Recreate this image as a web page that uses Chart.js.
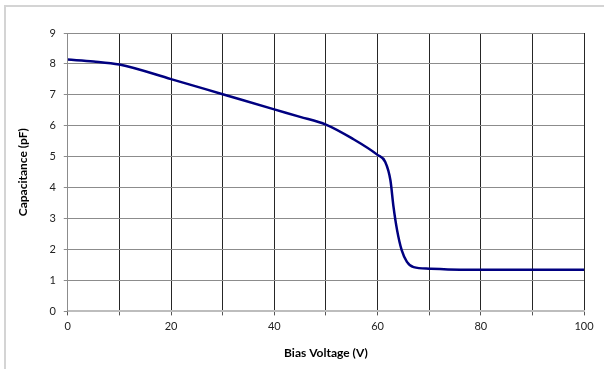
<!DOCTYPE html>
<html>
<head>
<meta charset="utf-8">
<script src="https://cdn.jsdelivr.net/npm/chart.js@4"></script>
<style>
  body { margin: 0; background: #fff; }
  #wrap { position: relative; width: 604px; height: 369px; }
</style>
</head>
<body>
<div id="wrap"><canvas id="chart"></canvas></div>
<script>
// values
const voltage = [0, 5, 10, 20, 30, 40, 45, 50, 55, 60, 61.5, 62.5, 63.1, 63.8, 64.7, 65.7, 67, 70, 76, 80, 90, 100];
const capacitance = [8.14, 8.08, 7.98, 7.51, 7.02, 6.53, 6.29, 6.04, 5.6, 5.06, 4.83, 4.24, 3.38, 2.62, 1.97, 1.6, 1.43, 1.38, 1.35, 1.35, 1.35, 1.35];
const xLabels = [0, 20, 40, 60, 80, 100];

const points = voltage.map(function (v, i) {
  return { x: v, y: capacitance[i] };
});

const frame = {
  id: 'frame',
  beforeDraw: function (chart) {
    const ctx = chart.ctx;
    ctx.save();
    ctx.strokeStyle = '#d4d4d4';
    ctx.lineWidth = 2;
    ctx.strokeRect(5, 6, 700, 700);
    ctx.restore();
  }
};

Chart.defaults.font.family = 'Lato, "Open Sans", sans-serif';
Chart.defaults.color = '#222';

new Chart(document.getElementById('chart'), {
  type: 'line',
  data: {
    datasets: [{
      data: points,
      borderColor: '#000080',
      borderWidth: 2.5,
      pointRadius: 0,
      cubicInterpolationMode: 'monotone',
      fill: false
    }]
  },
  options: {
    responsive: true,
    maintainAspectRatio: false,
    animation: false,
    layout: { padding: { left: 16, right: 20, top: 33, bottom: 9 } },
    plugins: { legend: { display: false }, tooltip: { enabled: false } },
    scales: {
      x: {
        type: 'linear',
        min: 0,
        max: 100,
        ticks: {
          stepSize: 10,
          autoSkip: false,
          maxRotation: 0,
          font: { size: 11 },
          padding: 4,
          callback: function (v) { return xLabels.includes(v) ? v : ''; }
        },
        grid: { color: '#262626', lineWidth: 1, tickLength: 4, tickColor: '#555' },
        border: { color: '#bdbdbd', width: 2 },
        title: { display: true, text: 'Bias Voltage (V)', font: { size: 12, weight: 'bold' }, color: '#000', padding: { top: 9, bottom: 0 } }
      },
      y: {
        min: 0,
        max: 9,
        ticks: { stepSize: 1, font: { size: 11 }, padding: 8 },
        grid: { color: '#8c8c8c', lineWidth: 1, tickLength: 4, tickColor: '#8c8c8c' },
        border: { color: '#8c8c8c', width: 1 },
        title: { display: true, text: 'Capacitance (pF)', font: { size: 12, weight: 'bold' }, color: '#000', padding: { top: 0, bottom: 11 } }
      }
    }
  },
  plugins: [frame]
});
</script>
</body>
</html>
